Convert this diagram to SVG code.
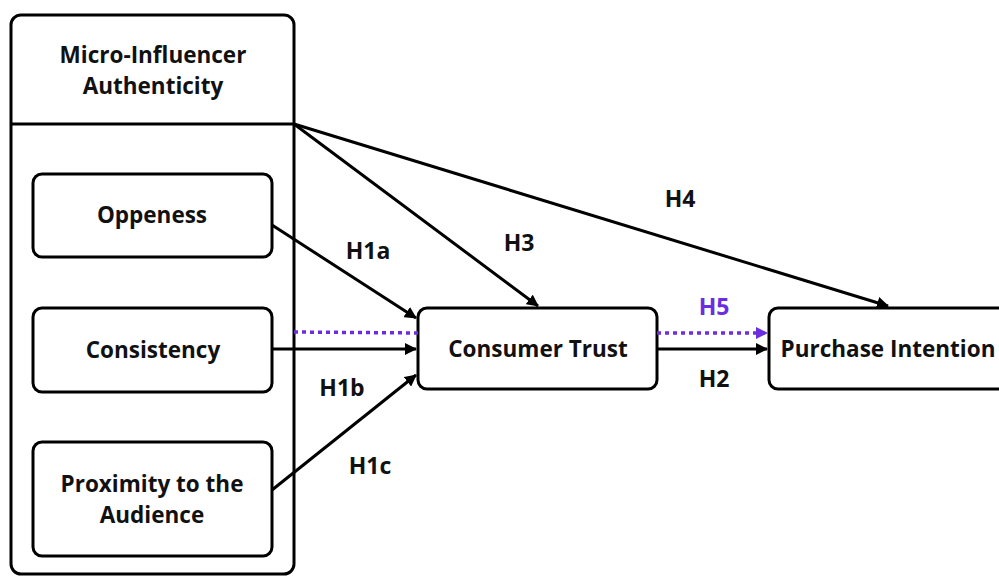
<svg xmlns="http://www.w3.org/2000/svg" width="999" height="576" viewBox="0 0 999 576">
<style>
.box{fill:#fff;stroke:#000;stroke-width:3}
.t{font-family:"Open Sans","Liberation Sans",sans-serif;font-weight:bold;font-size:22.5px;fill:#111;text-anchor:middle}
.l{font-size:23px}
.c{stroke:#000;stroke-width:3;fill:none}
.d{stroke:#6a2ee0;stroke-width:3.5;stroke-dasharray:4 4;fill:none}
</style>
<defs>
<marker id="ah" markerWidth="12" markerHeight="12" refX="11" refY="6" orient="auto" markerUnits="userSpaceOnUse" viewBox="0 0 12 12"><path d="M0,0 L12,6 L0,12 z" fill="#000"/></marker>
<marker id="ap" markerWidth="12" markerHeight="12" refX="11" refY="6" orient="auto" markerUnits="userSpaceOnUse" viewBox="0 0 12 12"><path d="M0,0 L12,6 L0,12 z" fill="#6a2ee0"/></marker>
</defs>
<g id="authenticity">
<rect class="box" x="11" y="15" width="283" height="559" rx="10"/>
<line class="c" x1="11" y1="124" x2="294" y2="124"/>
<text class="t" x="153" y="63">Micro-Influencer</text>
<text class="t" x="153" y="94">Authenticity</text>
</g>
<g id="oppeness">
<rect class="box" x="33" y="174" width="239" height="83" rx="9"/>
<text class="t" x="152" y="223">Oppeness</text>
</g>
<g id="consistency">
<rect class="box" x="33" y="308" width="239" height="84" rx="9"/>
<text class="t" x="153" y="358">Consistency</text>
</g>
<g id="proximity">
<rect class="box" x="33" y="442" width="239" height="114" rx="9"/>
<text class="t" x="152" y="492">Proximity to the</text>
<text class="t" x="152" y="523">Audience</text>
</g>
<g id="trust">
<rect class="box" x="418" y="308" width="239" height="81" rx="9"/>
<text class="t" x="538" y="357">Consumer Trust</text>
</g>
<g id="intention">
<rect class="box" x="769" y="308" width="245" height="81" rx="9"/>
<text class="t" x="888" y="357">Purchase Intention</text>
</g>
<g id="connectors">
<line class="c" x1="272" y1="225" x2="416" y2="318" marker-end="url(#ah)"/>
<line class="c" x1="272" y1="349" x2="416" y2="349" marker-end="url(#ah)"/>
<line class="c" x1="272" y1="490" x2="416" y2="375" marker-end="url(#ah)"/>
<line class="c" x1="294" y1="124" x2="538" y2="306" marker-end="url(#ah)"/>
<line class="c" x1="294" y1="124" x2="888" y2="306" marker-end="url(#ah)"/>
<line class="c" x1="657" y1="349" x2="767" y2="349" marker-end="url(#ah)"/>
<line class="d" x1="294" y1="332" x2="418" y2="333"/>
<line class="d" x1="657" y1="333" x2="767" y2="333" marker-end="url(#ap)"/>
<text class="t l" x="368" y="259">H1a</text>
<text class="t l" x="519" y="251">H3</text>
<text class="t l" x="680" y="207">H4</text>
<text class="t l" x="342" y="396">H1b</text>
<text class="t l" x="370" y="474">H1c</text>
<text class="t l" x="714" y="315" style="fill:#6a2ee0">H5</text>
<text class="t l" x="714" y="387">H2</text>
</g>
</svg>
